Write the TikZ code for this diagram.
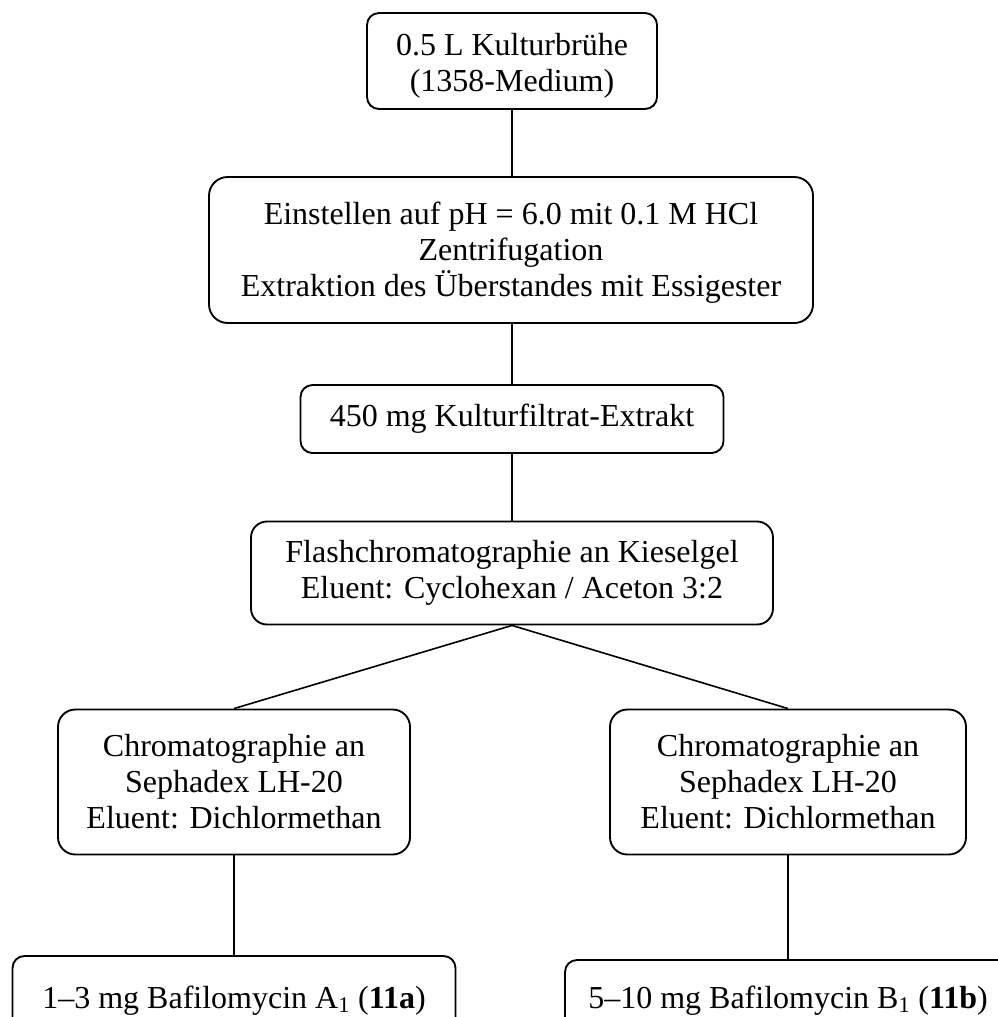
\documentclass[tikz,border=0pt]{standalone}
\usepackage{fontspec}
\setmainfont{Liberation Serif}
\begin{document}
\begin{tikzpicture}[x=0.75pt,y=-0.75pt,
  box/.style={draw, line width=1.4pt, inner sep=0pt},
  txt/.style={align=center, inner sep=0pt, font=\fontsize{24pt}{27pt}\selectfont},
  conn/.style={line width=1.2pt}]
\useasboundingbox (0,0) rectangle (998,1017);
\clip (0,0) rectangle (998,1017);
% boxes
\node[box, rounded corners=9pt, minimum width=290*0.75pt, minimum height=96*0.75pt] (b1) at (512,61) {};
\node[box, rounded corners=14pt, minimum width=604*0.75pt, minimum height=146*0.75pt] (b2) at (511,250) {};
\node[box, rounded corners=9pt, minimum width=423*0.75pt, minimum height=68*0.75pt] (b3) at (512,419) {};
\node[box, rounded corners=12pt, minimum width=522*0.75pt, minimum height=103*0.75pt] (b4) at (512,573) {};
\node[box, rounded corners=13pt, minimum width=352*0.75pt, minimum height=145*0.75pt] (b5) at (234,782) {};
\node[box, rounded corners=13pt, minimum width=356*0.75pt, minimum height=145*0.75pt] (b6) at (788,782) {};
\node[box, rounded corners=9pt, minimum width=443*0.75pt, minimum height=80*0.75pt] (b7) at (234,996) {};
\node[box, rounded corners=9pt, minimum width=446*0.75pt, minimum height=80*0.75pt] (b8) at (788,1000) {};
% texts
\node[txt] (t1) at ([yshift=-5*0.75pt]b1.center) {0.5 L Kulturbrühe\\(1358-Medium)};
\node[txt] (t2) at ([yshift=-3*0.75pt]b2.center) {Einstellen auf pH = 6.0 mit 0.1 M HCl\\Zentrifugation\\Extraktion des Überstandes mit Essigester};
\node[txt] (t3) at (b3.center) {450 mg Kulturfiltrat-Extrakt};
\node[txt] (t4) at (b4.center) {Flashchromatographie an Kieselgel\\Eluent: Cyclohexan / Aceton 3:2};
\node[txt] (t5) at (b5.center) {Chromatographie an\\Sephadex LH-20\\Eluent: Dichlormethan};
\node[txt] (t6) at (b6.center) {Chromatographie an\\Sephadex LH-20\\Eluent: Dichlormethan};
\node[txt, anchor=base] (t7) at (234,1008) {1–3 mg Bafilomycin A\textsubscript{1} (\textbf{11a})};
\node[txt, anchor=base] (t8) at (788,1008) {5–10 mg Bafilomycin B\textsubscript{1} (\textbf{11b})};
% connectors
\draw[conn] (b1.south) -- (b2.north -| b1.south);
\draw[conn] (b2.south -| b3.north) -- (b3.north);
\draw[conn] (b3.south) -- (b4.north);
\draw[conn] (b4.south) -- (b5.north);
\draw[conn] (b4.south) -- (b6.north);
\draw[conn] (b5.south) -- (b7.north -| b5.south);
\draw[conn] (b6.south) -- (b8.north -| b6.south);
\end{tikzpicture}
\end{document}
